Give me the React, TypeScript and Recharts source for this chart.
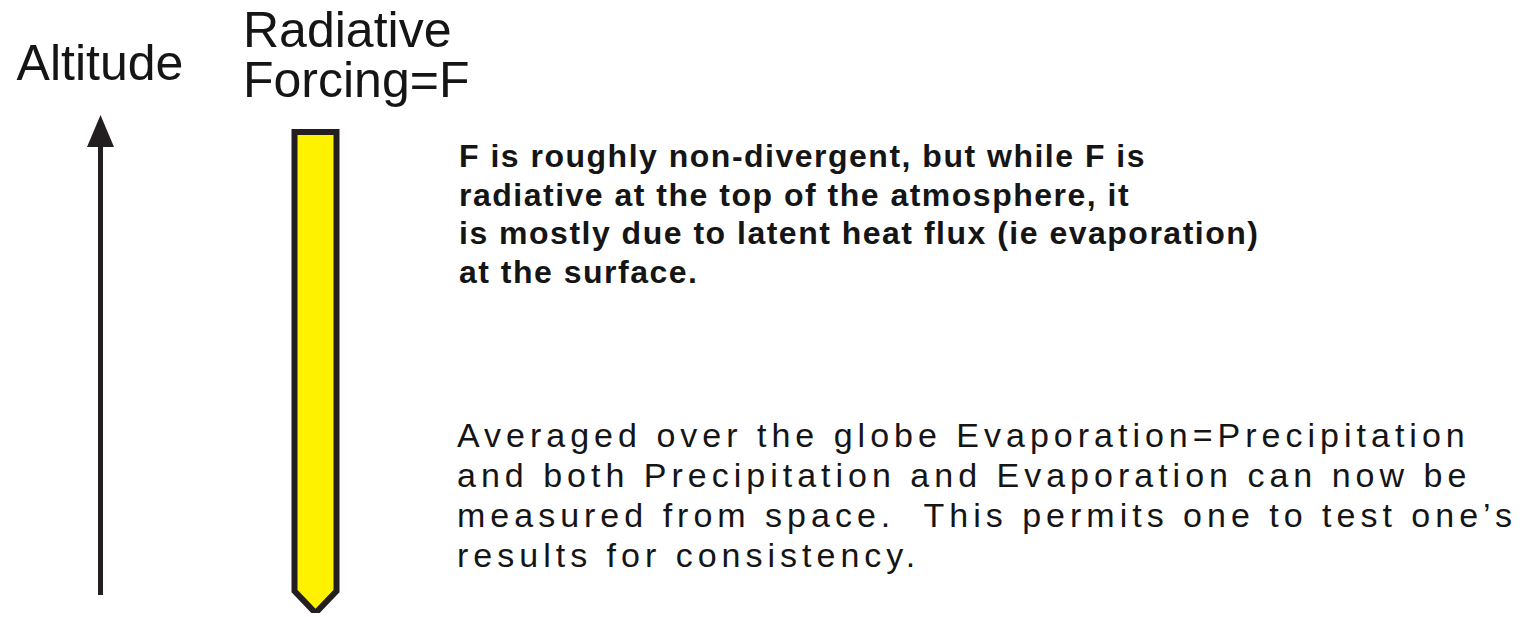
import { Bar, ComposedChart, XAxis, YAxis } from "recharts";

// columns of the diagram (x position in column units, altitude span 0..100)
const columns = ["Altitude", "Radiative Forcing=F"];
const columnPos = [1, 2];
const spanLow = [3.6, 0];
const spanHigh = [100, 96.6];

const headingAltitude = ["Altitude"];
const headingForcing = ["Radiative", "Forcing=F"];

const noteTop = [
  "F is roughly non-divergent, but while F is",
  "radiative at the top of the atmosphere, it",
  "is mostly due to latent heat flux (ie evaporation)",
  "at the surface.",
];

const noteBottom = [
  "Averaged over the globe Evaporation=Precipitation",
  "and both Precipitation and Evaporation can now be",
  "measured from space.  This permits one to test one\u2019s",
  "results for consistency.",
];

const data = columns.map((name, i) => ({
  name,
  col: columnPos[i],
  span: [spanLow[i], spanHigh[i]],
}));

const INK = "#231f20";
const YELLOW = "#fff200";
const FONT = "'Liberation Sans', Arial, Helvetica, sans-serif";

const ColumnShape = (props: any) => {
  const { x, y, width, height, index } = props;
  const cx = x + width / 2;
  const bottom = y + height;
  if (index === 0) {
    // altitude arrow
    return (
      <g>
        <line x1={cx} x2={cx} y1={bottom} y2={y + 28} stroke={INK} strokeWidth={5} />
        <polygon
          points={`${cx},${y} ${cx - 13.5},${y + 32} ${cx + 13.5},${y + 32}`}
          fill={INK}
        />
      </g>
    );
  }
  // forcing bar with pointed bottom
  const tip = width / 2 + 1;
  const d = `M${x},${y} L${x + width},${y} L${x + width},${bottom - tip} L${cx},${bottom} L${x},${bottom - tip} Z`;
  return <path d={d} fill={YELLOW} stroke={INK} strokeWidth={6} strokeLinejoin="miter" />;
};

export default function App() {
  return (
    <div style={{ position: "absolute", left: 0, top: 0, background: "#fff" }}>
      <ComposedChart
        width={1528}
        height={617}
        data={data}
        margin={{ top: 115, right: 0, bottom: 4, left: 0 }}
      >
        <XAxis
          type="number"
          dataKey="col"
          domain={[0.5302, 7.6372]}
          allowDataOverflow
          hide
        />
        <YAxis type="number" domain={[0, 100]} allowDataOverflow hide />
        <Bar
          dataKey="span"
          barSize={42}
          shape={ColumnShape}
          isAnimationActive={false}
        />

        <g fontFamily={FONT} fill="#151515">
          {headingAltitude.map((t) => (
            <text key={t} x={100} y={80} fontSize={50} textAnchor="middle">
              {t}
            </text>
          ))}
          <text x={243} y={47} fontSize={50}>
            {headingForcing.map((t, i) => (
              <tspan key={t} x={243} dy={i === 0 ? 0 : 50}>
                {t}
              </tspan>
            ))}
          </text>
          {noteTop.map((t, i) => (
            <text
              key={t}
              x={459}
              y={167 + i * 38.5}
              fontSize={32}
              fontWeight="bold"
              letterSpacing={1.5}
            >
              {t}
            </text>
          ))}
          {noteBottom.map((t, i) => (
            <text
              key={t}
              x={457}
              y={447 + i * 40}
              fontSize={34}
              letterSpacing={5}
              style={{ whiteSpace: "pre" }}
            >
              {t}
            </text>
          ))}
        </g>
      </ComposedChart>
    </div>
  );
}
